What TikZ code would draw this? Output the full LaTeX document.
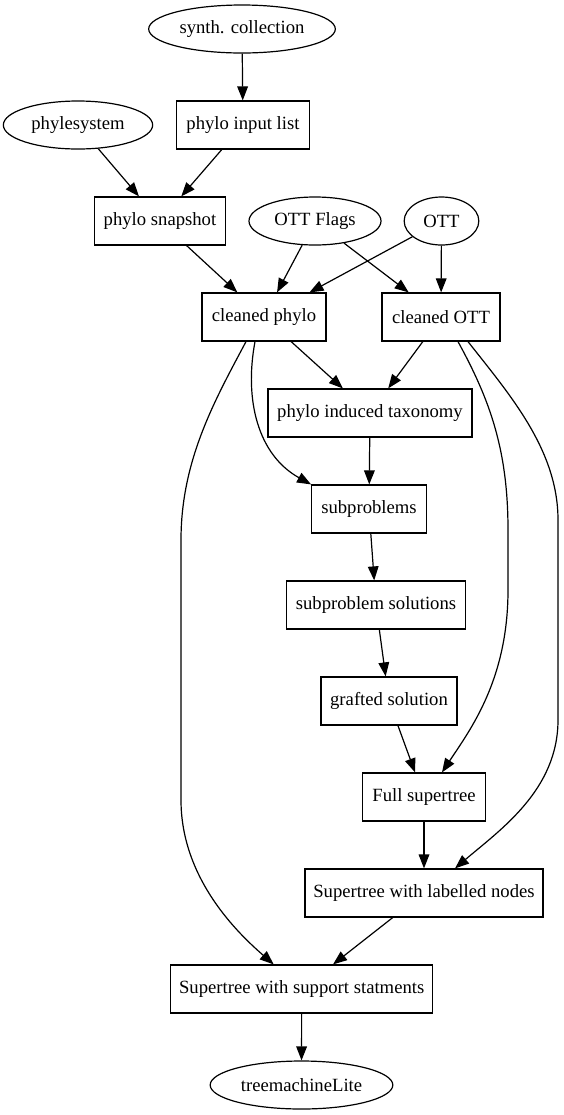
\documentclass[tikz,border=0pt]{standalone}
\usepackage{fontspec}
\setmainfont{Liberation Serif}
\usepackage{tikz}
\usetikzlibrary{arrows.meta,shapes.geometric,calc}

\begin{document}
\begin{tikzpicture}[x=0.75pt,y=-0.75pt,
    box/.style={draw,line width=0.9pt,minimum height=36pt,inner sep=1pt,font=\fontsize{14}{17}\selectfont},
    oval/.style={box,ellipse},
    edge/.style={-{Triangle[length=10.5pt,width=8pt]},line width=0.9pt}]
            %\draw[help lines] (0,0) grid (564,1115);
            \useasboundingbox (0,0) rectangle (564,1115);

            % sources
            \node[oval,minimum width=140pt] (synth) at (242,29) {synth. collection};
            \node[oval,minimum width=112pt] (phyl) at (78,125) {phylesystem};
            \node[box,minimum width=100pt] (input) at (243,125) {phylo input list};
            \node[box,minimum width=98pt] (snap) at (160,221) {phylo snapshot};
            \node[oval,minimum width=99pt] (flags) at (315,221) {OTT Flags};
            \node[oval,minimum width=56pt] (ott) at (441.5,221) {OTT};

            % pipeline
            \node[box,minimum width=93pt] (cphylo) at (264,317) {cleaned phylo};
            \node[box,minimum width=88.5pt] (cott) at (441,317) {cleaned OTT};
            \node[box,minimum width=153pt] (pit) at (370,413) {phylo induced taxonomy};
            \node[box,minimum width=86pt] (subp) at (369,509) {subproblems};
            \node[box,minimum width=134pt] (sols) at (376,605) {subproblem solutions};
            \node[box,minimum width=102pt] (graft) at (389,701) {grafted solution};
            \node[box,minimum width=92pt] (full) at (424,797) {Full supertree};
            \node[box,minimum width=178.5pt] (lab) at (424,893) {Supertree with labelled nodes};
            \node[box,minimum width=196.5pt] (supp) at (301.7,989) {Supertree with support statments};
            \node[oval,minimum width=137pt] (tml) at (301.5,1085) {treemachineLite};

            % straight edges
            \foreach \a/\b in {synth/input, input/snap, phyl/snap, snap/cphylo,
                flags/cphylo, flags/cott, ott/cphylo, ott/cott, cphylo/pit, cott/pit,
                pit/subp, subp/sols, sols/graft, graft/full, full/lab, lab/supp, supp/tml}
            {
                \draw[edge] (\a) -- (\b);
            }

            % curved edges
            \draw[edge] ($(cphylo.south)+(-18,0)$) .. controls (215,400) and (181,460) .. (181,540)
                -- (181,800) .. controls (181,880) and (240,935) .. ($(supp.north)+(-28,0)$);
            \draw[edge] ($(cphylo.south)+(-9,0)$) .. controls (244,400) and (258,455) .. (subp.north west);
            \draw[edge] ($(cott.south)+(17,0)$) .. controls (490,400) and (508,450) .. (508,530)
                -- (508,590) .. controls (508,680) and (470,730) .. ($(full.north)+(18,0)$);
            \draw[edge] ($(cott.south)+(27,0)$) .. controls (510,395) and (558,450) .. (558,520)
                -- (558,720) .. controls (558,790) and (500,830) .. ($(lab.north)+(31,0)$);
\end{tikzpicture}
\end{document}
